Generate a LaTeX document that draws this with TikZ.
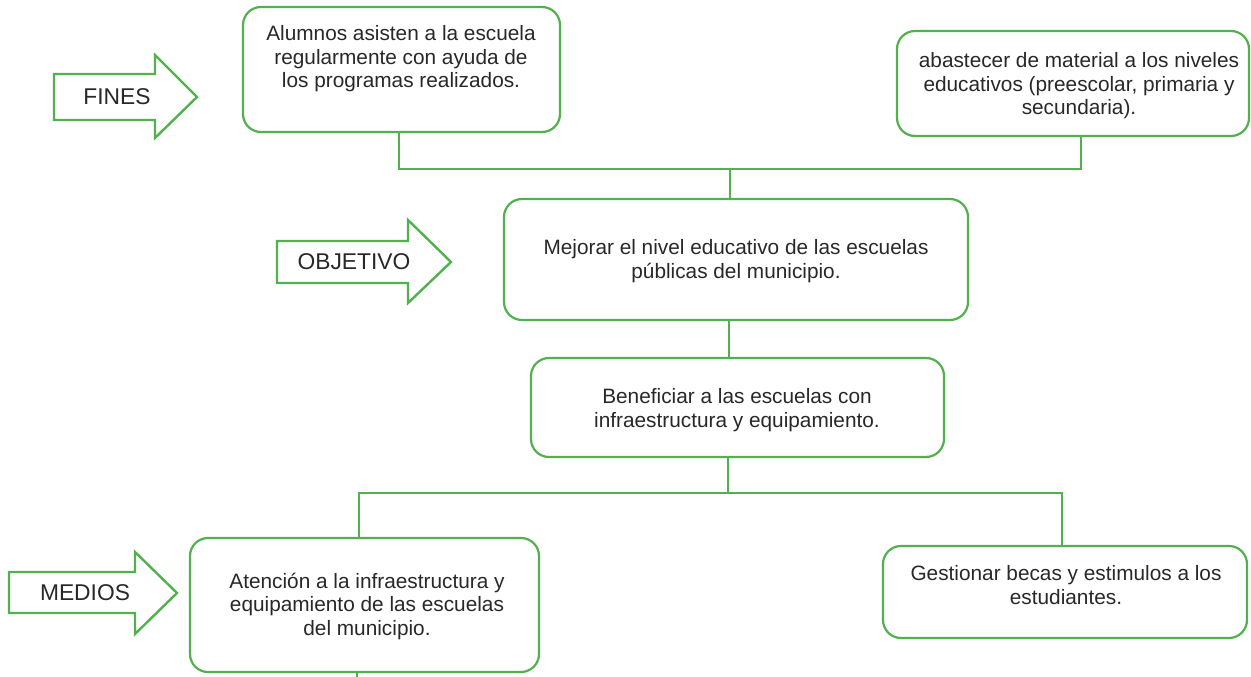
\documentclass[tikz,border=0pt]{standalone}
\usepackage{fontspec}
\setmainfont{Liberation Sans}
\usetikzlibrary{calc}
\definecolor{grn}{RGB}{82,176,78}
\definecolor{txtc}{RGB}{40,40,40}
\tikzset{
  box/.style={draw=grn, line width=2.2pt, rounded corners=18pt, fill=white, inner sep=0pt},
  conn/.style={draw=grn, line width=2.6pt},
  bigarrow/.style={draw=grn, line width=2.4pt, fill=white, line join=miter},
  txt/.style={text=txtc, font=\fontsize{20.8}{23.5}\selectfont, align=center, inner sep=0pt},
  arrtxt/.style={txt, font=\fontsize{22.8}{26}\selectfont},
}
\begin{document}
\begin{tikzpicture}[x=1pt, y=-1pt]
\useasboundingbox (0,0) rectangle (1251,677);
% boxes
\node[box, minimum width=317pt, minimum height=125pt] (A) at (401.5,69.5) {};
\node[box, minimum width=352pt, minimum height=105pt] (B) at (1073,83.5) {};
\node[box, minimum width=464pt, minimum height=121pt] (C) at (736,259.5) {};
\node[box, minimum width=413pt, minimum height=99pt] (D) at (737.5,407.5) {};
\node[box, minimum width=349pt, minimum height=134pt] (E) at (364.5,605) {};
\node[box, minimum width=364pt, minimum height=92pt] (F) at (1065,592) {};
% texts
\node[txt] (At) at (401,59) {Alumnos asisten a la escuela\\regularmente con ayuda de\\los programas realizados.};
\node[txt] (Bt) at (1079,86) {abastecer de material a los niveles\\educativos (preescolar, primaria y\\secundaria).};
\node[txt] (Ct) at (736,261) {Mejorar el nivel educativo de las escuelas\\públicas del municipio.};
\node[txt] (Dt) at (737,410) {Beneficiar a las escuelas con\\infraestructura y equipamiento.};
\node[txt] (Et) at (367,606) {Atención a la infraestructura y\\equipamiento de las escuelas\\del municipio.};
\node[txt] (Ft) at (1066,585) {Gestionar becas y estimulos a los\\estudiantes.};
% connectors
\coordinate (j1) at (730,168);
\coordinate (j2) at (728,494);
\draw[conn] ([xshift=-2.5pt]A.south) -- ++(0,36) -| ([xshift=8pt]B.south);
\draw[conn] (j1) -- (j1 |- C.north);
\draw[conn] ([xshift=-7pt]C.south) -- ([xshift=-7pt]C.south |- D.north);
\draw[conn] (j2 |- D.south) -- (j2);
\draw[conn] ([xshift=-5.5pt]E.north) -- ++(0,-44) -| ([xshift=-3pt]F.north);
\draw[conn] ([xshift=-7.5pt]E.south) -- ++(0,8);
% big arrows
\draw[bigarrow] (54,74) -- (155,74) -- (155,55) -- (197,97) -- (155,138) -- (155,120) -- (54,120) -- cycle;
\node[arrtxt] (fines) at (117,97) {FINES};
\draw[bigarrow] (277,241) -- (408,241) -- (408,220) -- (451,262) -- (408,303) -- (408,283) -- (277,283) -- cycle;
\node[arrtxt] (objetivo) at (354,262) {OBJETIVO};
\draw[bigarrow] (9,572) -- (135,572) -- (135,552) -- (177,593) -- (135,634) -- (135,613) -- (9,613) -- cycle;
\node[arrtxt] (medios) at (85,593) {MEDIOS};
\end{tikzpicture}
\end{document}
